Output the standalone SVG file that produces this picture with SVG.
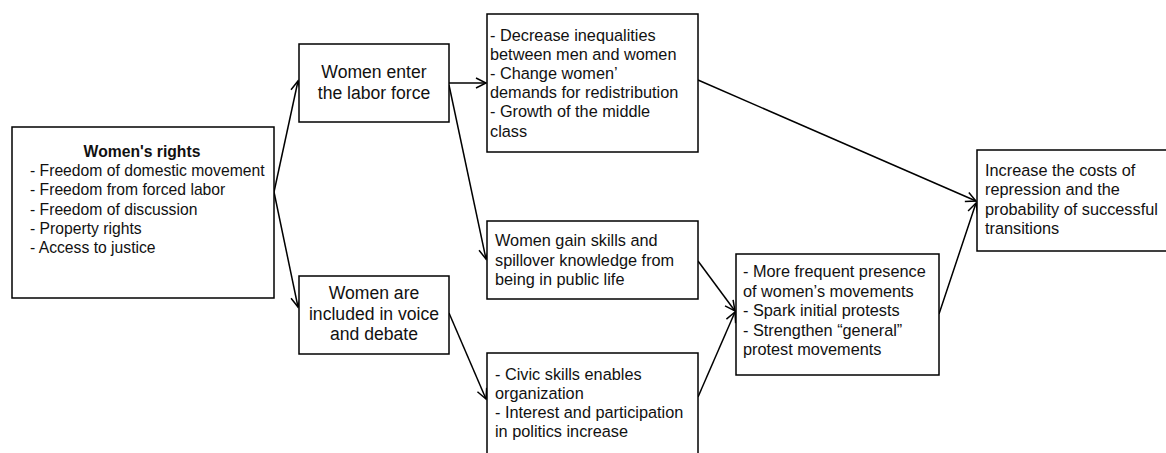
<svg xmlns="http://www.w3.org/2000/svg" width="1166" height="453" viewBox="0 0 1166 453">
<style>
.box{fill:#fff;stroke:#000;stroke-width:1.5}
.t{font-family:"Liberation Sans",Arial,sans-serif;font-size:16.3px;fill:#111}
.s{font-size:15.7px}
.m{font-size:17.6px}
.c{text-anchor:middle}
.b{font-weight:bold}
.edge{stroke:#000;stroke-width:1.5;fill:none;marker-end:url(#arr)}
</style>
<defs>
<marker id="arr" markerUnits="userSpaceOnUse" markerWidth="14" markerHeight="14" refX="11" refY="6" orient="auto">
<path d="M1,1 L11,6 L1,11" fill="none" stroke="#000" stroke-width="1.5"/>
</marker>
</defs>
<rect width="1166" height="453" fill="#fff"/>
<g id="connectors">
<line class="edge" x1="274" y1="192" x2="298" y2="81"/>
<line class="edge" x1="274" y1="192" x2="298" y2="307"/>
<line class="edge" x1="449" y1="83" x2="486" y2="83"/>
<line class="edge" x1="449" y1="85" x2="486" y2="259"/>
<line class="edge" x1="449" y1="313" x2="486" y2="399"/>
<line class="edge" x1="698" y1="80" x2="976" y2="201"/>
<line class="edge" x1="698" y1="261" x2="735" y2="311"/>
<line class="edge" x1="698" y1="397" x2="735" y2="312"/>
<line class="edge" x1="939" y1="314" x2="976" y2="203"/>
</g>
<g id="n1">
<rect class="box" x="12" y="127" width="262" height="171"/>
<text class="t s b c" x="142" y="157">Women's rights</text>
<text class="t s" x="30" y="176">- Freedom of domestic movement</text>
<text class="t s" x="30" y="195">- Freedom from forced labor</text>
<text class="t s" x="30" y="214.5">- Freedom of discussion</text>
<text class="t s" x="30" y="233.5">- Property rights</text>
<text class="t s" x="30" y="253">- Access to justice</text>
</g>
<g id="n2">
<rect class="box" x="299" y="44" width="150" height="78"/>
<text class="t m c" x="374" y="77.5">Women enter</text>
<text class="t m c" x="374" y="99">the labor force</text>
</g>
<g id="n3">
<rect class="box" x="299" y="276" width="150" height="78"/>
<text class="t m c" x="374" y="298.5">Women are</text>
<text class="t m c" x="374" y="319.5">included in voice</text>
<text class="t m c" x="374" y="340">and debate</text>
</g>
<g id="n4">
<rect class="box" x="487" y="14" width="211" height="138"/>
<text class="t" x="490" y="40.7">- Decrease inequalities</text>
<text class="t" x="490" y="60">between men and women</text>
<text class="t" x="490" y="78.5">- Change women’</text>
<text class="t" x="490" y="98.3">demands for redistribution</text>
<text class="t" x="490" y="117">- Growth of the middle</text>
<text class="t" x="490" y="136.7">class</text>
</g>
<g id="n5">
<rect class="box" x="487" y="221" width="211" height="78"/>
<text class="t" x="495" y="246">Women gain skills and</text>
<text class="t" x="495" y="265.7">spillover knowledge from</text>
<text class="t" x="495" y="285">being in public life</text>
</g>
<g id="n6">
<rect class="box" x="487" y="353" width="211" height="110"/>
<text class="t" x="495" y="380">- Civic skills enables</text>
<text class="t" x="495" y="399">organization</text>
<text class="t" x="495" y="418.3">- Interest and participation</text>
<text class="t" x="495" y="437.3">in politics increase</text>
</g>
<g id="n7">
<rect class="box" x="736" y="254" width="203" height="121"/>
<text class="t" x="743" y="276.7">- More frequent presence</text>
<text class="t" x="743" y="296.7">of women’s movements</text>
<text class="t" x="743" y="316">- Spark initial protests</text>
<text class="t" x="743" y="335.7">- Strengthen “general”</text>
<text class="t" x="743" y="355">protest movements</text>
</g>
<g id="n8">
<rect class="box" x="977" y="150" width="200" height="101"/>
<text class="t" x="985" y="176">Increase the costs of</text>
<text class="t" x="985" y="195.3">repression and the</text>
<text class="t" x="985" y="215">probability of successful</text>
<text class="t" x="985" y="234.3">transitions</text>
</g>
</svg>
